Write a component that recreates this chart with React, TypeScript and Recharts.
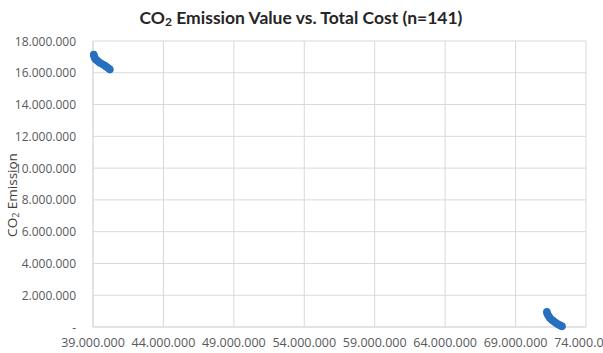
import { ScatterChart, Scatter, XAxis, YAxis, CartesianGrid, Label } from 'recharts';

const costLow = [39.05, 39.08, 39.12, 39.18, 39.25, 39.35, 39.45, 39.55, 39.7, 39.85, 39.95, 40.05, 40.15, 40.2];
const emissionLow = [17.15, 17.05, 16.95, 16.85, 16.8, 16.72, 16.65, 16.6, 16.52, 16.45, 16.38, 16.32, 16.25, 16.2];
const costHigh = [71.22, 71.25, 71.3, 71.38, 71.45, 71.55, 71.65, 71.75, 71.85, 71.95, 72.05, 72.15, 72.25, 72.3];
const emissionHigh = [0.95, 0.85, 0.75, 0.65, 0.55, 0.47, 0.4, 0.33, 0.27, 0.2, 0.15, 0.1, 0.06, 0.04];

const xTicks = [39, 44, 49, 54, 59, 64, 69, 74].map((v) => v * 1e6);
const yTicks = [0, 2, 4, 6, 8, 10, 12, 14, 16, 18].map((v) => v * 1e6);

const data = [
  ...costLow.map((c, i) => ({ cost: c * 1e6, emission: emissionLow[i] * 1e6 })),
  ...costHigh.map((c, i) => ({ cost: c * 1e6, emission: emissionHigh[i] * 1e6 })),
];

const FONT = "'Open Sans', sans-serif";
const fmt = (v: number) => (v === 0 ? '-' : String(Math.round(v)).replace(/\B(?=(\d{3})+(?!\d))/g, '.'));

const Dot = (props: any) => <circle cx={props.cx} cy={props.cy} r={3.8} fill="#2670C0" />;

const YTick = (props: any) => (
  <text x={76} y={props.y} textAnchor="end" dominantBaseline="central" fontFamily={FONT} fontSize={12} fill="#595959">
    {fmt(props.payload.value)}
  </text>
);

const XTick = (props: any) => (
  <text x={props.x} y={342} textAnchor="middle" dominantBaseline="central" fontFamily={FONT} fontSize={12.5} fill="#595959">
    {fmt(props.payload.value)}
  </text>
);

const YLabel = () => {
  const cy = 195;
  return (
    <text x={12} y={cy} transform={`rotate(-90, 12, ${cy})`} textAnchor="middle" dominantBaseline="central" fontFamily={FONT} fontSize={13.5} fill="#404040">
      CO<tspan fontSize={9} dy={3}>2</tspan><tspan dy={-3}> Emission</tspan>
    </text>
  );
};

export default function App() {
  return (
    <div style={{ position: 'absolute', left: 0, top: 0, width: 603, height: 353, background: '#fff' }}>
      <ScatterChart width={603} height={353} margin={{ top: 41, right: 17, bottom: 0, left: 0 }}>
        <text x={301} y={17} textAnchor="middle" dominantBaseline="central" fontFamily="Lato, sans-serif" fontSize={17.5} fontWeight="bold" fill="#262626">
          CO<tspan fontSize={12} dy={4}>2</tspan><tspan dy={-4}> Emission Value vs. Total Cost (n=141)</tspan>
        </text>
        <CartesianGrid stroke="#D9D9D9" />
        <XAxis
          type="number"
          dataKey="cost"
          domain={[39e6, 74e6]}
          ticks={xTicks}
          height={26}
          axisLine={{ stroke: '#D9D9D9' }}
          tickLine={false}
          tick={<XTick />}
          interval={0}
        />
        <YAxis
          type="number"
          dataKey="emission"
          domain={[0, 18e6]}
          ticks={yTicks}
          width={93}
          axisLine={{ stroke: '#D9D9D9' }}
          tickLine={false}
          tick={<YTick />}
          interval={0}
        >
          <Label content={<YLabel />} />
        </YAxis>
        <Scatter data={data} shape={<Dot />} isAnimationActive={false} />
      </ScatterChart>
    </div>
  );
}
